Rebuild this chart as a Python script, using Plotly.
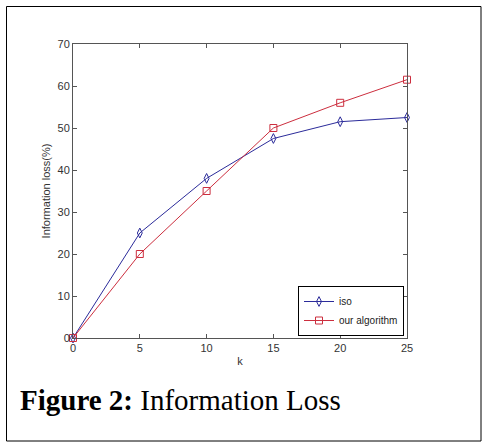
import plotly.graph_objects as go

k_values = [0, 5, 10, 15, 20, 25]
iso_loss = [0, 25, 38, 47.5, 51.5, 52.5]
our_loss = [0, 20, 35, 50, 56, 61.5]
x_ticks = [0, 5, 10, 15, 20, 25]
y_ticks = [0, 10, 20, 30, 40, 50, 60, 70]

W, H = 483, 442
L, R, T, B = 73, 407, 44, 338

def px_x(px):
    return (px - L) / (R - L)

def px_y(py):
    return (B - py) / (B - T)

fig = go.Figure()
fig.add_trace(go.Scatter(
    x=k_values, y=iso_loss, name="iso", mode="lines+markers",
    line=dict(color="#2b2b9a", width=1),
    marker=dict(symbol="diamond-tall-open", size=7, color="#2b2b9a", line=dict(width=1)),
    cliponaxis=False,
))
fig.add_trace(go.Scatter(
    x=k_values, y=our_loss, name="our algorithm", mode="lines+markers",
    line=dict(color="#cc2e3e", width=1),
    marker=dict(symbol="square-open", size=7, color="#cc2e3e", line=dict(width=1)),
    cliponaxis=False,
))

axis_common = dict(
    showline=True, linecolor="#555555", linewidth=1, mirror="ticks",
    ticks="inside", ticklen=4, tickcolor="#555555", showgrid=False, zeroline=False,
    tickfont=dict(family="Liberation Sans", size=11, color="#333333"),
)

fig.update_xaxes(range=[0, 25], tickvals=x_ticks, title=dict(text="k", standoff=4,
                 font=dict(family="Liberation Sans", size=11, color="#333333")), **axis_common)
fig.update_yaxes(range=[0, 70], tickvals=y_ticks, title=dict(text="Information loss(%)", standoff=4,
                 font=dict(family="Liberation Sans", size=11, color="#333333")), **axis_common)

fig.update_layout(
    width=W, height=H,
    margin=dict(l=L, r=W - R, t=T, b=H - B),
    paper_bgcolor="white", plot_bgcolor="white",
    showlegend=True,
    legend=dict(x=px_x(298), y=px_y(311), xanchor="left", yanchor="middle",
                bordercolor="black", borderwidth=1, bgcolor="white",
                font=dict(family="Liberation Sans", size=10, color="#222222"),
                tracegroupgap=0, itemwidth=30),
    shapes=[dict(type="rect", xref="paper", yref="paper",
                 x0=px_x(6.5), x1=px_x(481), y0=px_y(441), y1=px_y(6.5),
                 line=dict(color="black", width=1))],
    annotations=[dict(text="<b>Figure 2:</b> Information Loss", xref="paper", yref="paper",
                      x=px_x(18), y=px_y(400), xanchor="left", yanchor="middle", showarrow=False,
                      font=dict(family="Liberation Serif", size=29, color="black"))],
)

fig.write_html("out.html", config={"displayModeBar": False},
               post_script="document.body.style.margin='0';document.body.style.padding='0';")
